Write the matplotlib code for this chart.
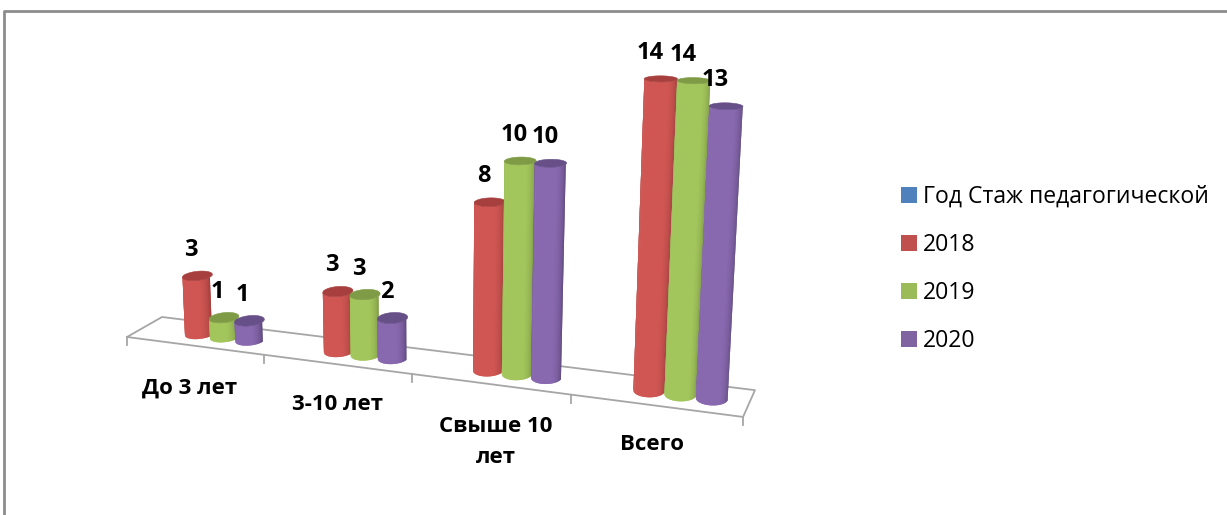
import numpy as np
import matplotlib
matplotlib.use('Agg')
import matplotlib.pyplot as plt
from matplotlib.collections import PolyCollection
from matplotlib.patches import Patch

categories = ['До 3 лет', '3-10 лет', 'Свыше 10\nлет', 'Всего']
years = ['Год Стаж педагогической', '2018', '2019', '2020']
v2018 = [3, 3, 8, 14]
v2019 = [1, 3, 10, 14]
v2020 = [1, 2, 10, 13]
series = [v2018, v2019, v2020]

legend_colors = ['#4F81BD', '#C0504D', '#9BBB59', '#8064A2']
body_colors = ['#CF5653', '#A3C65C', '#8868AE']
edge_colors = ['#A33F3C', '#7F9C47', '#604A80']
cap_colors = ['#A63F3D', '#7F9B45', '#674F88']

plt.rcParams['font.family'] = ['Open Sans', 'DejaVu Sans']

fig = plt.figure(figsize=(12.27, 5.15), dpi=100)
ax = fig.add_axes([0, 0, 1, 1])
ax.set_xlim(0, 1227)
ax.set_ylim(515, 0)
ax.axis('off')


# perspective of the 3d chart box, u = category, d = depth, v = value
def project(u, d, v):
    w = 1 - 0.03474 * u + 0.0418 * d - 0.0033 * v
    x = (128.2 * u + 127 + 41.8 * d - 1.42 * v) / w
    y = (5.5 * u + 337 - 6.75 * d - 20.35 * v) / w
    return x, y


# floor
fu = np.array([0, 4, 4, 0, 0])
fd = np.array([0, 0, 1, 1, 0])
fx, fy = project(fu, fd, 0)
ax.plot(fx, fy, color='#A6A6A6', lw=1.3, zorder=1)
for i in range(len(categories) + 1):
    tx, ty = project(i, 0, 0)
    ax.plot([tx, tx], [ty, ty + 8], color='#A6A6A6', lw=1.3, zorder=1)


def mix(c1, c2, t):
    a = np.array(matplotlib.colors.to_rgb(c1))
    b = np.array(matplotlib.colors.to_rgb(c2))
    return a * (1 - t) + b * t


def cylinder(u, value, s):
    r_u, r_d = 0.091, 0.25
    th = np.linspace(np.pi, 2 * np.pi, 41)  # front half of the circle
    bx, by = project(u + r_u * np.cos(th), 0.5 + r_d * np.sin(th), 0)
    tx, ty = project(u + r_u * np.cos(th), 0.5 + r_d * np.sin(th), value)
    quads = []
    cols = []
    for k in range(len(th) - 1):
        # each strip runs on under the next one, so no seams show
        n = min(k + 2, len(th) - 1)
        quads.append([(bx[k], by[k]), (bx[n], by[n]), (tx[n], ty[n]), (tx[k], ty[k])])
        c = np.cos((th[k] + th[k + 1]) / 2 - 1.5 * np.pi + 0.1)
        cols.append(mix(edge_colors[s], body_colors[s], min(1, max(c, 0) ** 0.6 * 1.25)))
    z = 3 + u + s * 0.01
    ax.add_collection(PolyCollection(quads, facecolors=cols, edgecolors='none', zorder=z))
    full = np.linspace(0, 2 * np.pi, 61)
    cx, cy = project(u + r_u * np.cos(full), 0.5 + r_d * np.sin(full), value)
    ax.fill(cx, cy, color=cap_colors[s], lw=0.4, zorder=z + 0.001)
    return project(u, 0.5, value)


label_dx = [-7, -6, -6, -11]
for c in range(len(categories)):
    for s, vals in enumerate(series):
        u = c + 0.60 + (s - 1) * 0.185
        top_x, top_y = cylinder(u, vals[c], s)
        ax.text(top_x + label_dx[c], top_y - 26, str(vals[c]), fontsize=17, fontweight='bold',
                ha='center', va='center', color='black', zorder=20)

cat_pos = [(190, 388), (337, 404), (496, 442), (652, 445)]
for name, (cx, cy) in zip(categories, cat_pos):
    ax.text(cx, cy, name, fontsize=16, fontweight='bold', ha='center', va='center',
            linespacing=1.57, color='black', zorder=20)

handles = [Patch(facecolor=c, edgecolor='none') for c in legend_colors]
ax.legend(handles, years, loc='center left', bbox_to_anchor=(901 / 1227, 1 - 269 / 515), frameon=False,
          fontsize=16.6, handlelength=0.68, handleheight=0.68, handletextpad=0.27,
          labelspacing=1.05, borderpad=0, borderaxespad=0)

# outer frame of the screenshot
ax.plot([4, 4, 1227], [515, 11, 11], color='#8C8C8C', lw=2, zorder=0)

fig.savefig('out.png', dpi=100)
